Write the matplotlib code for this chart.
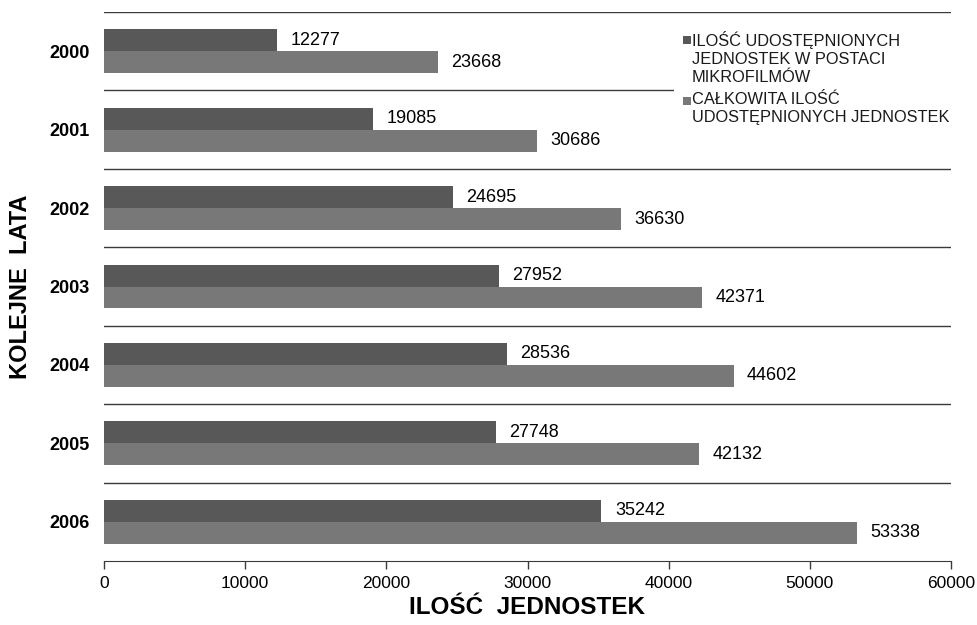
import matplotlib.pyplot as plt
from matplotlib.patches import Rectangle
import numpy as np

# dane: liczba udostępnionych jednostek w kolejnych latach
lata = ['2000', '2001', '2002', '2003', '2004', '2005', '2006']
mikrofilmy = [12277, 19085, 24695, 27952, 28536, 27748, 35242]
ogolem = [23668, 30686, 36630, 42371, 44602, 42132, 53338]
opisy = ['ILOŚĆ UDOSTĘPNIONYCH\nJEDNOSTEK W POSTACI\nMIKROFILMÓW',
         'CAŁKOWITA ILOŚĆ\nUDOSTĘPNIONYCH JEDNOSTEK']

kolory = ['#585858', '#787878']
plt.rcParams['font.family'] = ['Liberation Sans', 'DejaVu Sans']

fig = plt.figure(figsize=(9.77, 6.25), dpi=100)
ax = fig.add_axes([104/977, 64/625, 847/977, 549/625])

y = np.arange(len(lata))
h = 0.28
ax.barh(y - h/2, mikrofilmy, height=h, color=kolory[0])
ax.barh(y + h/2, ogolem, height=h, color=kolory[1])

for i in range(len(lata)):
    ax.text(mikrofilmy[i] + 950, y[i] - h/2, str(mikrofilmy[i]), va='center', ha='left', fontsize=13)
    ax.text(ogolem[i] + 950, y[i] + h/2, str(ogolem[i]), va='center', ha='left', fontsize=13)

# linie oddzielające lata
for k in range(-1, len(lata) - 1):
    ax.axhline(k + 0.5, color='#3a3a3a', lw=1.0, zorder=0)

ax.set_xlim(0, 60000)
ax.set_ylim(len(lata) - 0.5, -0.5)
ax.set_xticks(range(0, 60001, 10000))
ax.set_yticks(y)
ax.set_yticklabels(lata, fontweight='bold', fontsize=13)
ax.tick_params(axis='y', length=0, pad=10)
ax.tick_params(axis='x', direction='out', length=6, width=1, color='#3a3a3a', labelsize=12.5, pad=5)

for s in ['top', 'right', 'left']:
    ax.spines[s].set_visible(False)
ax.spines['bottom'].set_color('#3a3a3a')

fig.text(527/977, 1 - 607/625, 'ILOŚĆ  JEDNOSTEK', ha='center', va='center',
         fontweight='bold', fontsize=17.5)
ax.set_ylabel('KOLEJNE  LATA', fontweight='bold', fontsize=17, labelpad=13)

# legenda: białe tło, kwadraty przy pierwszym wierszu opisu
fig.patches.append(Rectangle((674/977, 1 - 140/625), 290/977, 112/625, transform=fig.transFigure,
                             facecolor='white', edgecolor='none', zorder=2))
for j, (opis, y0) in enumerate(zip(opisy, [31, 92])):
    fig.patches.append(Rectangle((683/977, 1 - (y0 + 13)/625), 8/977, 8/625, transform=fig.transFigure,
                                 facecolor=kolory[j], edgecolor='none', zorder=3))
    fig.text(692/977, 1 - y0/625, opis, ha='left', va='top', fontsize=11.8,
             linespacing=1.25, color='#1a1a1a', zorder=3)

plt.savefig('out.png', dpi=100)
